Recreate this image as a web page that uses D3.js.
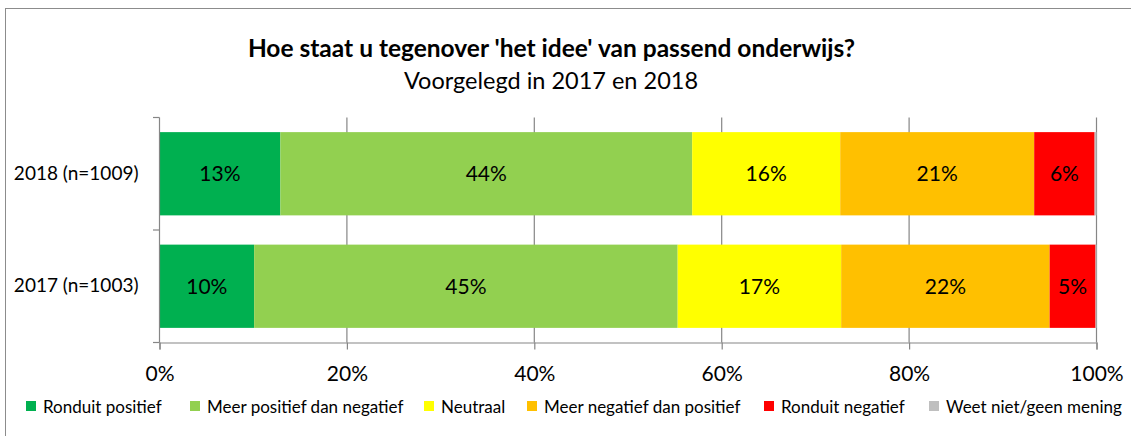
<!DOCTYPE html>
<html><head><meta charset="utf-8">
<script src="https://cdn.jsdelivr.net/npm/d3@7/dist/d3.min.js"></script>
<style>
body{margin:0;background:#fff}
svg{display:block}
text{font-family:Lato,"Open Sans",sans-serif;fill:#000}
</style>
</head><body>
<svg id="chart" width="1131" height="436"></svg>
<script>
// ---- data ----
const categories = ["2018 (n=1009)", "2017 (n=1003)"];
const seriesNames = ["Ronduit positief", "Meer positief dan negatief", "Neutraal",
  "Meer negatief dan positief", "Ronduit negatief", "Weet niet/geen mening"];
const ronduitPositief = [12.9, 10.1];
const meerPositief   = [43.95, 45.2];
const neutraal       = [15.8, 17.45];
const meerNegatief   = [20.7, 22.25];
const ronduitNegatief= [6.45, 4.9];
const weetNiet       = [0.2, 0.1];
const xTicks = [0, 20, 40, 60, 80, 100];
const titleText = "Hoe staat u tegenover 'het idee' van passend onderwijs?";
const subtitleText = "Voorgelegd in 2017 en 2018";

// ---- style ----
const colors = ["#00B050", "#92D050", "#FFFF00", "#FFC000", "#FF0000", "#BFBFBF"];
const gridColor = "#868686";

const seriesValues = [ronduitPositief, meerPositief, neutraal, meerNegatief, ronduitNegatief, weetNiet];
const rows = categories.map((c, i) => {
  const r = {cat: c};
  seriesNames.forEach((s, k) => r[s] = seriesValues[k][i]);
  return r;
});

const svg = d3.select("#chart");

// frame
svg.append("rect").attr("x", 5.5).attr("y", 8.5).attr("width", 1140).attr("height", 450)
  .attr("fill", "none").attr("stroke", "#8c8c8c").attr("stroke-width", 1);

const x = d3.scaleLinear().domain([0, 100]).range([159.5, 1096.5]);
const y = d3.scaleBand().domain(categories).range([117.5, 342.5])
  .paddingInner(0.26).paddingOuter(0.13);

// title
svg.append("text").attr("x", 551.5).attr("y", 57).attr("text-anchor", "middle")
  .style("font-weight", "bold").style("font-size", "24.5px").text(titleText);
svg.append("text").attr("x", 551).attr("y", 88.5).attr("text-anchor", "middle")
  .style("font-size", "23.5px").text(subtitleText);

// gridlines
svg.append("g").selectAll("line").data(xTicks.filter(d => d > 0)).join("line")
  .attr("x1", d => x(d)).attr("x2", d => x(d))
  .attr("y1", 117.5).attr("y2", 342.5)
  .attr("stroke", gridColor).attr("stroke-width", 1.2);

// bars
const stack = d3.stack().keys(seriesNames);
const stacked = stack(rows);
const fmt = d3.format(".0f");
stacked.forEach((layer, k) => {
  const g = svg.append("g");
  g.selectAll("rect").data(layer).join("rect")
    .attr("x", d => x(d[0])).attr("width", d => x(d[1]) - x(d[0]))
    .attr("y", d => y(d.data.cat)).attr("height", y.bandwidth())
    .attr("fill", colors[k]);
  g.selectAll("text").data(layer.filter(d => d[1] - d[0] >= 1)).join("text")
    .attr("x", d => (x(d[0]) + x(d[1])) / 2)
    .attr("y", d => y(d.data.cat) + y.bandwidth() / 2)
    .attr("dy", "0.36em").attr("text-anchor", "middle")
    .style("font-size", "21px")
    .text(d => fmt(d[1] - d[0]) + "%");
});

// x axis
const xAxis = svg.append("g").attr("transform", "translate(0,342.5)")
  .call(d3.axisBottom(x).tickValues(xTicks).tickSizeOuter(0).tickSize(7)
    .tickFormat(d => d + "%"));
xAxis.select(".domain").attr("stroke", gridColor).attr("stroke-width", 1.2);
xAxis.selectAll(".tick line").attr("stroke", gridColor).attr("stroke-width", 1.2);
xAxis.selectAll(".tick text").attr("y", 38.5).attr("dy", 0)
  .style("font-size", "21px").style("font-family", "Lato,sans-serif").attr("fill", "#000");

// y axis: labels via axisLeft, boundary ticks manually
const yAxis = svg.append("g").attr("transform", "translate(159.5,0)")
  .call(d3.axisLeft(y).tickSize(0).tickPadding(21));
yAxis.select(".domain").attr("stroke", gridColor).attr("stroke-width", 1.2)
  .attr("d", "M0,117.5V342.5");
yAxis.selectAll(".tick text").style("font-size", "19px")
  .style("font-family", "Lato,sans-serif").attr("fill", "#000");
const bounds = [117.5, (117.5 + 342.5) / 2, 342.5];
svg.append("g").selectAll("line").data(bounds).join("line")
  .attr("x1", 153).attr("x2", 159.5).attr("y1", d => d).attr("y2", d => d)
  .attr("stroke", gridColor).attr("stroke-width", 1.2);

// legend
const legendX = [26, 190, 424, 527, 764, 929];
const lg = svg.append("g").selectAll("g").data(seriesNames).join("g")
  .attr("transform", (d, i) => `translate(${legendX[i]},401)`);
lg.append("rect").attr("width", 10).attr("height", 10).attr("fill", (d, i) => colors[i]);
lg.append("text").attr("x", 17).attr("y", 11.5).style("font-size", "17px").text(d => d);
</script>
</body></html>
